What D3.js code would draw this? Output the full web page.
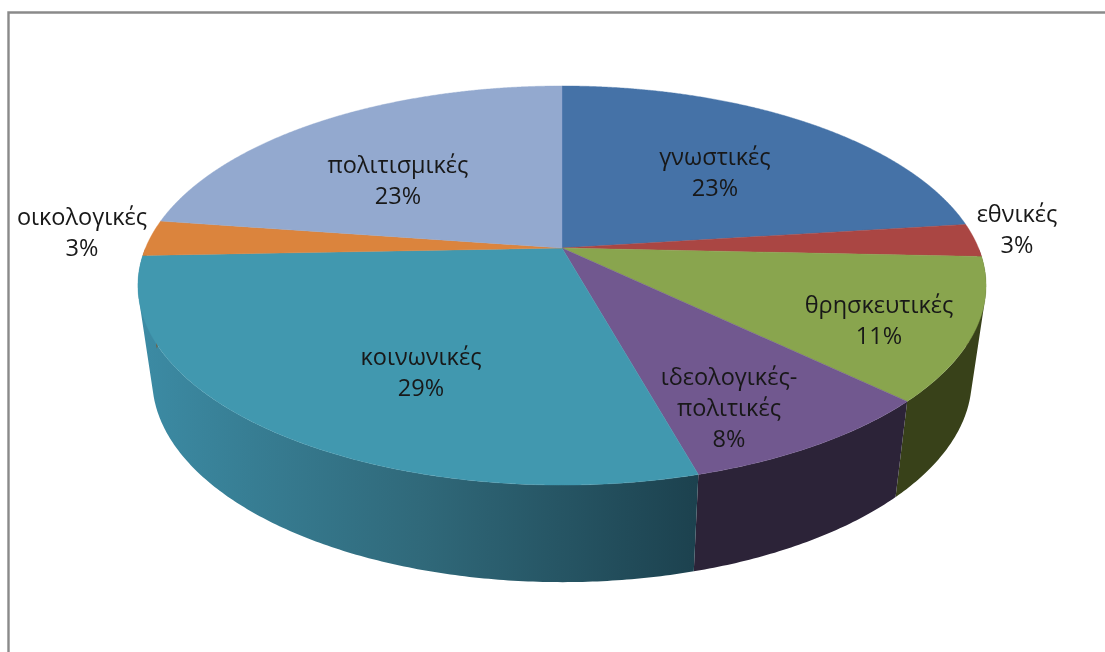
<!DOCTYPE html>
<html>
<head>
<meta charset="utf-8">
<script src="https://cdn.jsdelivr.net/npm/d3@7"></script>
<style>
  html, body { margin: 0; background: #fff; }
  svg { filter: blur(0.45px); }
  text { font-family: "Open Sans", "Noto Sans", sans-serif; font-size: 23.5px; fill: #181818; }
</style>
</head>
<body>
<div id="chart"></div>
<script>
const categories = ["γνωστικές", "εθνικές", "θρησκευτικές", "ιδεολογικές-πολιτικές", "κοινωνικές", "οικολογικές", "πολιτισμικές"];
const shares = [23, 2.7, 11.49, 8.49, 28.71, 2.9, 22.71];
const topColors = ["#4572a7", "#aa4643", "#89a54e", "#71588f", "#4198af", "#db843d", "#93a9cf"];
const labelCenters = [[715, 157], [1017, 214], [879, 305], [729, 377], [421, 357], [82, 217], [398, 165]];

const width = 1105, height = 652;
const cx = 562, tilt = 0.188;
const topFace = { y0: 248, a: 416.5, b: 192.5 };
const bottomRim = { y0: 341, a: 402.5, b: 195.8 };

const svg = d3.select("#chart").append("svg")
    .attr("width", width)
    .attr("height", height)
    .style("display", "block");

// left and top edges of the chart frame
svg.append("path")
    .attr("d", `M8.5,${height} V12.5 H${width}`)
    .attr("fill", "none")
    .attr("stroke", "#8a8a8a")
    .attr("stroke-width", 2.4);

const defs = svg.append("defs");
function wallGradient(id, stops) {
    const g = defs.append("linearGradient").attr("id", id)
        .attr("gradientUnits", "userSpaceOnUse")
        .attr("x1", 140).attr("x2", 700).attr("y1", 0).attr("y2", 0);
    stops.forEach(s => g.append("stop").attr("offset", s[0]).attr("stop-color", s[1]));
}
wallGradient("wall-teal", [[0, "#3c8ba4"], [0.5, "#30697a"], [1, "#1c414e"]]);

const wallFill = ["#2b4360", "#662a28", "#384119", "#2c2338", "url(#wall-teal)", "#83501f", "#586680"];

// perspective: circle point -> screen point
function project(angle, face) {
    const u = Math.sin(angle), v = -Math.cos(angle), w = 1 - tilt * v;
    return [cx + face.a * u / w, face.y0 + face.b * v / w];
}

function arcPoints(a0, a1, face) {
    return d3.range(a0, a1, 0.004).concat([a1]).map(a => project(a, face));
}

const line = d3.line();
const slices = d3.pie().sort(null).value(d => d)(shares);

// one side wall: quads between the rims, all wound the same way so nonzero fill leaves no seams
function wallPath(d) {
    const a0 = Math.max(d.startAngle, Math.PI / 2), a1 = Math.min(d.endAngle, 3 * Math.PI / 2);
    if (a1 <= a0) return null;
    const angles = d3.range(a0, a1, 0.01).concat([a1]);
    return d3.pairs(angles).map(p => {
        const quad = [project(p[0], topFace), project(p[1], topFace), project(p[1], bottomRim), project(p[0], bottomRim)];
        return line(d3.polygonArea(quad) < 0 ? quad.reverse() : quad) + "Z";
    }).join("");
}

// sides
svg.append("g").selectAll("path")
    .data(slices).enter().append("path")
    .attr("d", wallPath)
    .attr("fill", d => wallFill[d.index]);

// top faces
svg.append("g").selectAll("path")
    .data(slices).enter().append("path")
    .attr("d", d => line([[cx, topFace.y0]].concat(arcPoints(d.startAngle, d.endAngle, topFace))) + "Z")
    .attr("fill", d => topColors[d.index])
    .attr("stroke", d => topColors[d.index])
    .attr("stroke-width", 0.4);

// labels
const labels = svg.append("g").selectAll("text")
    .data(slices).enter().append("text")
    .attr("text-anchor", "middle")
    .attr("x", d => labelCenters[d.index][0])
    .attr("y", d => labelCenters[d.index][1] + 8);

labels.selectAll("tspan")
    .data(d => categories[d.index].split(/(?<=-)/).concat([Math.round(d.value) + "%"]))
    .enter().append("tspan")
    .attr("x", function() { return d3.select(this.parentNode).attr("x"); })
    .attr("dy", (d, i) => i ? 31 : 0)
    .text(d => d);
</script>
</body>
</html>
